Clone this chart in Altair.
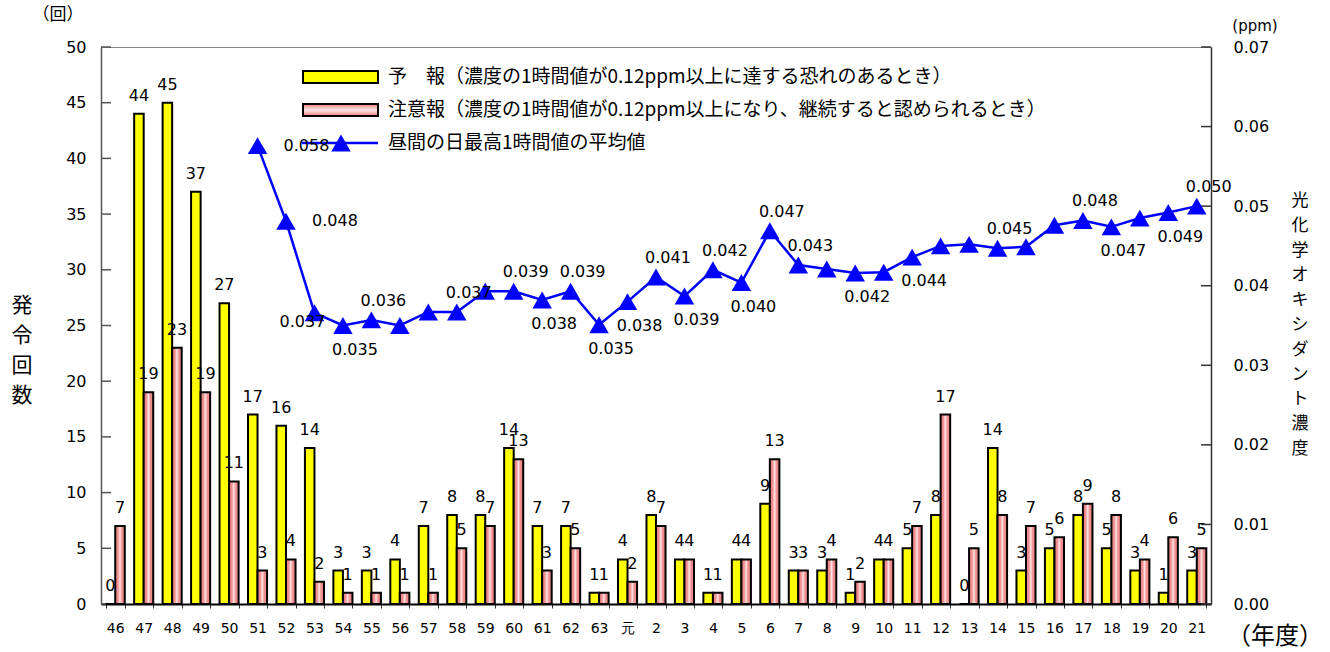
import altair as alt
import pandas as pd

# ---------------- data ----------------
years = ["46", "47", "48", "49", "50", "51", "52", "53", "54", "55", "56", "57", "58",
         "59", "60", "61", "62", "63", "元", "2", "3", "4", "5", "6", "7", "8", "9", "10",
         "11", "12", "13", "14", "15", "16", "17", "18", "19", "20", "21"]
forecast = [0, 44, 45, 37, 27, 17, 16, 14, 3, 3, 4, 7, 8, 8, 14, 7, 7, 1,
            4,
            8, 4, 1, 4, 9, 3, 3, 1, 4, 5, 8, 0, 14, 3, 5, 8, 5, 3, 1, 3]
alert = [7, 19, 23, 19, 11, 3, 4, 2, 1, 1, 1, 1, 5, 7, 13, 3, 5, 1,
         2,
         7, 4, 1, 4, 13, 3, 4, 2, 4, 7, 17, 5, 8, 7, 6, 9, 8, 4, 6, 5]
line_years = years[5:]
line_vals = [0.0576, 0.0481, 0.0366, 0.0350, 0.0357, 0.0350, 0.0367, 0.0367, 0.0393,
             0.0393, 0.0382, 0.0393, 0.0351,
             0.0380,
             0.0411, 0.0387, 0.0420, 0.0404, 0.0469, 0.0426, 0.0421, 0.0416, 0.0417,
             0.0436, 0.0450, 0.0452, 0.0447, 0.0449, 0.0476, 0.0482, 0.0474, 0.0485,
             0.0492, 0.0500]
# where each value label sits: a=above, b=below, r=right, m=middle, ""=none
label_pos = ["r", "r", "m", "b", "a", "", "", "a", "", "a", "b", "a", "b",
             "b",
             "a", "b", "a", "b", "a", "a", "", "b", "", "b", "", "", "a", "", "",
             "a", "b", "", "b", "a"]
left_ticks = [0, 5, 10, 15, 20, 25, 30, 35, 40, 45, 50]
right_ticks = [0.0, 0.01, 0.02, 0.03, 0.04, 0.05, 0.06, 0.07]
series_names = ["予報", "注意報"]
legend_texts = ["予　報（濃度の1時間値が0.12ppm以上に達する恐れのあるとき）",
                "注意報（濃度の1時間値が0.12ppm以上になり、継続すると認められるとき）",
                "昼間の日最高1時間値の平均値"]

NUM_FONT = "DejaVu Sans"
JP_FONT = "Noto Sans CJK JP"
BLUE = "#0000FF"
YELLOW = "#FFFF00"

yellow_df = pd.DataFrame({"year": years, "series": series_names[0], "count": forecast})
pink_df = pd.DataFrame({"year": years, "series": series_names[1], "count": alert})
line_df = pd.DataFrame({"year": line_years, "o3": line_vals, "pos": label_pos})
lt_df = pd.DataFrame({"count": left_ticks})
rt_df = pd.DataFrame({"o3": right_ticks})
one = pd.DataFrame({"k": [0]})

pink_grad = alt.LinearGradient(
    gradient="linear", x1=0, x2=1, y1=0, y2=0,
    stops=[alt.GradientStop(color="#EE8080", offset=0),
           alt.GradientStop(color="#F09090", offset=0.3),
           alt.GradientStop(color="#FCE4E4", offset=0.5),
           alt.GradientStop(color="#F09090", offset=0.7),
           alt.GradientStop(color="#EE8080", offset=1)])
pink_grad_v = alt.LinearGradient(
    gradient="linear", x1=0, x2=0, y1=0, y2=1,
    stops=[alt.GradientStop(color="#EE8080", offset=0),
           alt.GradientStop(color="#FCE4E4", offset=0.5),
           alt.GradientStop(color="#EE8080", offset=1)])

x_enc = alt.X("year:N",
              scale=alt.Scale(domain=years, paddingInner=0.33, paddingOuter=0.165),
              axis=alt.Axis(title=None, labelAngle=0, labelFont=NUM_FONT, labelFontSize=14,
                            labelColor="black", domainColor="black", domainWidth=2,
                            tickBand="extent", tickSize=4, tickColor="#333",
                            labelPadding=13))
xoff = alt.XOffset("series:N", scale=alt.Scale(domain=series_names, paddingInner=0,
                                               paddingOuter=0))
y_left = alt.Y("count:Q", scale=alt.Scale(domain=[0, 50], nice=False),
               axis=alt.Axis(title=None, values=left_ticks, format="d", ticks=False,
                             labelPadding=15, labelFont=NUM_FONT, labelFontSize=16,
                             labelColor="black", domainColor="#555", domainWidth=1.5,
                             grid=False))
y_right = alt.Y("o3:Q", scale=alt.Scale(domain=[0, 0.07], nice=False),
                axis=alt.Axis(title=None, orient="right", values=right_ticks, format=".2f",
                              ticks=False, labelPadding=22, labelFont=NUM_FONT,
                              labelFontSize=16, labelColor="black", domainColor="#333",
                              domainWidth=1.5, grid=False))

# ---------------- left-scale group ----------------
left_tick_rules = alt.Chart(lt_df).mark_rule(color="#555", strokeWidth=1.5).encode(
    y=y_left, x=alt.value(0), x2=alt.value(10))
yellow_bars = alt.Chart(yellow_df).mark_bar(fill=YELLOW, stroke="black", strokeWidth=2).encode(
    x=x_enc, xOffset=xoff, y=y_left)
pink_bars = alt.Chart(pink_df).mark_bar(fill=pink_grad, stroke="black", strokeWidth=2).encode(
    x=x_enc, xOffset=xoff, y=y_left)
yellow_lab = alt.Chart(yellow_df).mark_text(font=NUM_FONT, fontSize=16, baseline="middle",
                                            dy=-18, color="black").encode(
    x=x_enc, xOffset=xoff, y=y_left, text="count:Q")
pink_lab = alt.Chart(pink_df).mark_text(font=NUM_FONT, fontSize=16, baseline="middle",
                                        dy=-18, color="black").encode(
    x=x_enc, xOffset=xoff, y=y_left, text="count:Q")

# legend
leg_y = [30, 63, 96]
leg1 = alt.Chart(one).mark_rect(fill=YELLOW, stroke="black", strokeWidth=2).encode(
    x=alt.value(202), x2=alt.value(277), y=alt.value(leg_y[0] - 6), y2=alt.value(leg_y[0] + 6))
leg2 = alt.Chart(one).mark_rect(fill=pink_grad_v, stroke="black", strokeWidth=2).encode(
    x=alt.value(202), x2=alt.value(277), y=alt.value(leg_y[1] - 6), y2=alt.value(leg_y[1] + 6))
leg3 = alt.Chart(one).mark_rule(color=BLUE, strokeWidth=2.5).encode(
    x=alt.value(201), x2=alt.value(277), y=alt.value(leg_y[2]))
leg3p = alt.Chart(one).mark_point(shape="triangle-up", filled=True, size=380, color=BLUE,
                                  opacity=1).encode(x=alt.value(240), y=alt.value(leg_y[2]))
leg_txt = [alt.Chart(one).mark_text(font=JP_FONT, fontSize=19, align="left", baseline="middle",
                                    color="black").encode(
    x=alt.value(287), y=alt.value(leg_y[i]), text=alt.value(legend_texts[i])) for i in range(3)]

# annotations
ann_unit = alt.Chart(one).mark_text(font=JP_FONT, fontSize=17, color="black").encode(
    x=alt.value(-43), y=alt.value(-32), text=alt.value("（回）"))
ann_ppm = alt.Chart(one).mark_text(font=NUM_FONT, fontSize=15, color="black").encode(
    x=alt.value(1154), y=alt.value(-21), text=alt.value("(ppm)"))
ann_year = alt.Chart(one).mark_text(font=JP_FONT, fontSize=24, color="black").encode(
    x=alt.value(1174), y=alt.value(590), text=alt.value("（年度）"))
ann_left = alt.Chart(one).mark_text(font=JP_FONT, fontSize=21, lineBreak="\n", lineHeight=30,
                                    baseline="top", color="black").encode(
    x=alt.value(-79), y=alt.value(248), text=alt.value("発\n令\n回\n数"))
ann_right = alt.Chart(one).mark_text(font=JP_FONT, fontSize=17, lineBreak="\n", lineHeight=24.8,
                                     baseline="top", color="black").encode(
    x=alt.value(1199), y=alt.value(146),
    text=alt.value("光\n化\n学\nオ\nキ\nシ\nダ\nン\nト\n濃\n度"))

group_left = alt.layer(left_tick_rules, yellow_bars, pink_bars, yellow_lab, pink_lab,
                       leg1, leg2, leg3, leg3p, *leg_txt,
                       ann_unit, ann_ppm, ann_year, ann_left, ann_right)

# ---------------- right-scale group ----------------
right_tick_rules = alt.Chart(rt_df).mark_rule(color="#333", strokeWidth=1.5).encode(
    y=y_right, x=alt.value(1100), x2=alt.value(1110))
o3_line = alt.Chart(line_df).mark_line(color=BLUE, strokeWidth=2.5).encode(x=x_enc, y=y_right)
o3_pts = alt.Chart(line_df).mark_point(shape="triangle-up", filled=True, size=380, color=BLUE,
                                       opacity=1).encode(x=x_enc, y=y_right)


def o3_labels(code, **kw):
    return alt.Chart(line_df).transform_filter(alt.datum.pos == code).mark_text(
        font=NUM_FONT, fontSize=16, color="black", baseline="middle", **kw).encode(
        x=x_enc, y=y_right, text=alt.Text("o3:Q", format=".3f"))


group_right = alt.layer(right_tick_rules, o3_line, o3_pts,
                        o3_labels("a", dx=12, dy=-19),
                        o3_labels("b", dx=12, dy=24),
                        o3_labels("r", align="left", dx=26),
                        o3_labels("m", dx=-12, dy=9))

chart = alt.layer(group_left, group_right).resolve_scale(y="independent").properties(
    width=1110, height=557,
    autosize=alt.AutoSizeParams(type="none"),
    padding={"left": 101, "top": 47, "right": 119, "bottom": 48},
).configure_view(stroke="#888", strokeWidth=1)

chart.save("out.html", embed_options={"renderer": "svg", "actions": False})
